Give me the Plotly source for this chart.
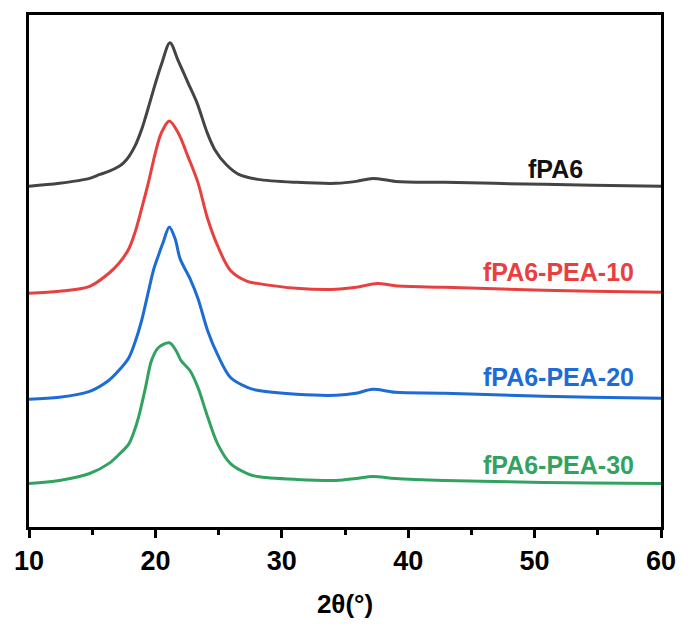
import plotly.graph_objects as go

# 2θ positions (degrees) and intensities (a.u., offset stacked)
x_fpa6 = [10, 12.4, 14.8, 15.6, 16.3, 17.1, 17.5, 17.9, 18.4, 18.9, 19.2, 19.5, 20.0, 20.5, 21.15, 21.8, 22.6, 23.3, 24.1, 24.7, 25.6, 26.6, 28.1, 31.2, 34.3, 35.9, 37.2, 39.0, 42.9, 50.7, 54.6, 60]
y_fpa6 = [344, 347, 352, 356, 359, 364, 368, 374, 385, 401, 413, 426, 448, 468, 489, 471, 448, 428, 398, 381, 366, 356, 351, 348, 347, 349, 352, 349, 348, 346, 345, 344]

x_pea10 = [10, 12.4, 14.8, 16.3, 17.1, 17.9, 18.4, 18.9, 19.45, 20.0, 20.47, 21.1, 21.8, 22.58, 23.36, 24.14, 24.92, 25.94, 27.27, 28.05, 31.17, 34.3, 35.86, 37.58, 38.98, 42.89, 50.7, 54.6, 60]
y_pea10 = [236, 238, 243, 256, 266, 281, 298, 321, 348, 378, 398, 410, 398, 374, 348, 311, 284, 259, 248, 246, 241, 240, 242, 246, 243.5, 242, 239, 238, 237]

x_pea20 = [10, 12.4, 14.8, 16.3, 17.1, 17.9, 18.4, 18.9, 19.45, 19.84, 20.23, 20.63, 21.1, 21.56, 21.95, 22.73, 23.36, 24.14, 24.92, 25.94, 27.27, 28.05, 31.17, 34.3, 35.86, 37.19, 38.98, 42.89, 50.7, 54.6, 60]
y_pea20 = [129, 131, 137, 148, 158, 171, 187, 208, 238, 259, 274, 288, 303, 291, 271, 251, 231, 198, 174, 151, 141, 138, 134, 133, 135, 139, 136, 135, 132, 131, 130]

x_pea30 = [10, 12.4, 14.8, 16.3, 17.1, 17.9, 18.3, 18.67, 19.22, 19.69, 20.23, 21.1, 21.64, 22.03, 22.73, 23.36, 24.14, 24.92, 25.94, 27.27, 28.05, 31.17, 34.3, 35.86, 37.19, 38.98, 42.89, 50.7, 54.6, 60]
y_pea30 = [44, 47, 54, 64, 73, 84, 96, 111, 141, 168, 181, 186, 178, 168, 158, 141, 111, 84, 64, 54, 51, 48, 47, 49, 51, 49, 47, 45, 44.5, 44]

series_names = ["fPA6", "fPA6-PEA-10", "fPA6-PEA-20", "fPA6-PEA-30"]
series_colors = ["#444444", "#e8403f", "#1c6bd6", "#32a261"]
label_colors = ["#111111", "#e8403f", "#1c6bd6", "#32a261"]
label_x = [54.0, 58.05, 58.05, 58.05]
label_y = [362, 257, 151, 63]

xs = [x_fpa6, x_pea10, x_pea20, x_pea30]
ys = [y_fpa6, y_pea10, y_pea20, y_pea30]

fig = go.Figure()
for name, xv, yv, c in zip(series_names, xs, ys, series_colors):
    fig.add_trace(go.Scatter(x=xv, y=yv, mode="lines", name=name,
                             line=dict(color=c, width=3, shape="spline", smoothing=0.9),
                             showlegend=False))

for name, lx, ly, c in zip(series_names, label_x, label_y, label_colors):
    fig.add_annotation(x=lx, y=ly, text=name, showarrow=False, xanchor="right", yanchor="middle",
                       font=dict(family="Liberation Sans, Arial", size=25, color=c, weight="bold"))

fig.update_layout(
    width=688, height=626,
    margin=dict(l=29, r=19, t=14, b=95),
    plot_bgcolor="white", paper_bgcolor="white",
)
fig.update_xaxes(
    range=[10, 60], tickmode="linear", tick0=10, dtick=10,
    showline=True, linecolor="black", linewidth=2.5, mirror=True,
    ticks="outside", ticklen=8, tickwidth=2.5, tickcolor="black",
    minor=dict(ticks="outside", dtick=5, tick0=10, ticklen=5, tickwidth=2.5, tickcolor="black"),
    showgrid=False, zeroline=False,
    tickfont=dict(family="Liberation Sans, Arial", size=27, color="black", weight="bold"),
    title=dict(text="2θ(°)", standoff=20,
               font=dict(family="Liberation Sans, Arial", size=26, color="black", weight="bold")),
)
fig.update_yaxes(
    range=[0, 517], showline=True, linecolor="black", linewidth=2.5, mirror=True,
    ticks="", showticklabels=False, showgrid=False, zeroline=False,
)

fig.write_html("out.html")
